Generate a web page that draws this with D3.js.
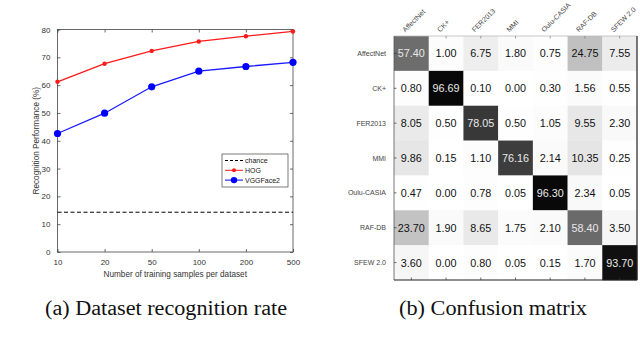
<!DOCTYPE html>
<html>
<head>
<meta charset="utf-8">
<script src="https://cdn.jsdelivr.net/npm/d3@7"></script>
<style>
  body { margin: 0; background: #fff; }
  svg { display: block; }
</style>
</head>
<body>
<svg id="fig" width="640" height="353"></svg>
<script>
// left panel data
var samples = ["10", "20", "50", "100", "200", "500"];
var hog = [61.2, 67.7, 72.3, 75.7, 77.6, 79.3];
var vgg = [42.6, 49.9, 59.4, 65.0, 66.7, 68.2];
var chance = 14.3;
var yTicks = [0, 10, 20, 30, 40, 50, 60, 70, 80];

// right panel data
var datasets = ["AffectNet", "CK+", "FER2013", "MMI", "Oulu-CASIA", "RAF-DB", "SFEW 2.0"];
var confusion = [
  [57.40, 1.00, 6.75, 1.80, 0.75, 24.75, 7.55],
  [0.80, 96.69, 0.10, 0.00, 0.30, 1.56, 0.55],
  [8.05, 0.50, 78.05, 0.50, 1.05, 9.55, 2.30],
  [9.86, 0.15, 1.10, 76.16, 2.14, 10.35, 0.25],
  [0.47, 0.00, 0.78, 0.05, 96.30, 2.34, 0.05],
  [23.70, 1.90, 8.65, 1.75, 2.10, 58.40, 3.50],
  [3.60, 0.00, 0.80, 0.05, 0.15, 1.70, 93.70]
];

var svg = d3.select("#fig");
var sans = "'Liberation Sans', Arial, sans-serif";
var serif = "'Liberation Serif', 'Times New Roman', serif";

// ---- (a) line chart ----
var L = {left: 57.5, right: 293, top: 29.5, bottom: 252};
var x = d3.scalePoint().domain(samples).range([L.left, L.right]);
var y = d3.scaleLinear().domain([0, 80]).range([L.bottom, L.top]);

var gA = svg.append("g");

gA.append("rect")
  .attr("x", L.left).attr("y", L.top)
  .attr("width", L.right - L.left).attr("height", L.bottom - L.top)
  .attr("fill", "none").attr("stroke", "#444").attr("stroke-width", 0.8);

// axes with inward ticks
gA.append("g").attr("transform", "translate(0," + L.bottom + ")")
  .call(d3.axisBottom(x).tickSizeInner(-3).tickSizeOuter(0).tickPadding(7))
  .call(function(g) { g.select(".domain").remove(); });
gA.append("g").attr("transform", "translate(0," + L.top + ")")
  .call(d3.axisTop(x).tickSizeInner(-3).tickSizeOuter(0).tickFormat(""))
  .call(function(g) { g.select(".domain").remove(); });
gA.append("g").attr("transform", "translate(" + L.left + ",0)")
  .call(d3.axisLeft(y).tickValues(yTicks).tickSizeInner(-3).tickSizeOuter(0).tickPadding(7))
  .call(function(g) { g.select(".domain").remove(); });
gA.append("g").attr("transform", "translate(" + L.right + ",0)")
  .call(d3.axisRight(y).tickValues(yTicks).tickSizeInner(-3).tickSizeOuter(0).tickFormat(""))
  .call(function(g) { g.select(".domain").remove(); });

gA.selectAll(".tick line").attr("stroke", "#444").attr("stroke-width", 0.8);
gA.selectAll(".tick text").attr("fill", "#333").style("font-family", sans).style("font-size", "8px");

gA.append("text")
  .attr("x", (L.left + L.right) / 2).attr("y", 277)
  .attr("text-anchor", "middle").attr("fill", "#333")
  .style("font-family", sans).style("font-size", "8.2px")
  .text("Number of training samples per dataset");
gA.append("text")
  .attr("transform", "translate(39," + (L.top + L.bottom) / 2 + ") rotate(-90)")
  .attr("text-anchor", "middle").attr("fill", "#333")
  .style("font-family", sans).style("font-size", "8.2px")
  .text("Recognition Performance (%)");

// chance line
gA.append("line")
  .attr("x1", L.left).attr("x2", L.right)
  .attr("y1", y(chance)).attr("y2", y(chance))
  .attr("stroke", "#000").attr("stroke-width", 1).attr("stroke-dasharray", "4,2.5");

var line = d3.line().x(function(d, i) { return x(samples[i]); }).y(function(d) { return y(d); });

gA.append("path").datum(hog).attr("d", line)
  .attr("fill", "none").attr("stroke", "#ff1a1a").attr("stroke-width", 1.3);
gA.selectAll(".hogPt").data(hog).enter().append("circle")
  .attr("cx", function(d, i) { return x(samples[i]); }).attr("cy", y)
  .attr("r", 2.2).attr("fill", "#ff1a1a");

gA.append("path").datum(vgg).attr("d", line)
  .attr("fill", "none").attr("stroke", "#1a1aff").attr("stroke-width", 1.3);
gA.selectAll(".vggPt").data(vgg).enter().append("circle")
  .attr("cx", function(d, i) { return x(samples[i]); }).attr("cy", y)
  .attr("r", 3.6).attr("fill", "#0000ff");

// legend
var leg = gA.append("g").attr("transform", "translate(222,154)");
leg.append("rect").attr("width", 66).attr("height", 33)
  .attr("fill", "#fff").attr("stroke", "#444").attr("stroke-width", 0.7);
var legItems = [
  {name: "chance", color: "#000", dash: "3,2", r: 0},
  {name: "HOG", color: "#ff1a1a", dash: null, r: 2},
  {name: "VGGFace2", color: "#0000ff", dash: null, r: 3.2}
];
legItems.forEach(function(d, i) {
  var ly = 6.5 + i * 9.8;
  leg.append("line").attr("x1", 3).attr("x2", 21).attr("y1", ly).attr("y2", ly)
    .attr("stroke", d.color).attr("stroke-width", 1).attr("stroke-dasharray", d.dash);
  if (d.r) leg.append("circle").attr("cx", 12).attr("cy", ly).attr("r", d.r).attr("fill", d.color);
  leg.append("text").attr("x", 23).attr("y", ly + 2.5).attr("fill", "#222")
    .style("font-family", sans).style("font-size", "7px").text(d.name);
});

// ---- (b) confusion matrix ----
var M = {left: 394, right: 637, top: 36, bottom: 280};
var cx = d3.scaleBand().domain(d3.range(7)).range([M.left, M.right]);
var cy = d3.scaleBand().domain(d3.range(7)).range([M.top, M.bottom]);
var shade = d3.scaleLinear().domain([0, 100]).range(["#ffffff", "#000000"]);

var gB = svg.append("g");
var cells = [];
confusion.forEach(function(row, r) {
  row.forEach(function(v, c) { cells.push({r: r, c: c, v: v}); });
});

gB.selectAll(".cell").data(cells).enter().append("rect")
  .attr("x", function(d) { return cx(d.c); }).attr("y", function(d) { return cy(d.r); })
  .attr("width", cx.bandwidth() + 0.3).attr("height", cy.bandwidth() + 0.3)
  .attr("fill", function(d) { return shade(d.v); });

gB.selectAll(".val").data(cells).enter().append("text")
  .attr("x", function(d) { return cx(d.c) + cx.bandwidth() / 2; })
  .attr("y", function(d) { return cy(d.r) + cy.bandwidth() / 2 + 4; })
  .attr("text-anchor", "middle")
  .attr("fill", function(d) { return d.v > 50 ? "#e8e8e8" : "#111"; })
  .style("font-family", sans).style("font-size", "10.8px")
  .text(function(d) { return d.v.toFixed(2); });

// frame and ticks
gB.append("line").attr("x1", M.left).attr("x2", M.right).attr("y1", M.top).attr("y2", M.top)
  .attr("stroke", "#bbb").attr("stroke-width", 0.8);
gB.append("line").attr("x1", M.left).attr("x2", M.left).attr("y1", M.top).attr("y2", M.bottom)
  .attr("stroke", "#555").attr("stroke-width", 0.8);
gB.append("line").attr("x1", M.left).attr("x2", M.right).attr("y1", M.bottom).attr("y2", M.bottom)
  .attr("stroke", "#222").attr("stroke-width", 1.2);
gB.append("line").attr("x1", M.right).attr("x2", M.right).attr("y1", M.top).attr("y2", M.bottom)
  .attr("stroke", "#222").attr("stroke-width", 1.2);

d3.range(7).forEach(function(i) {
  var tx = cx(i) + cx.bandwidth() / 2;
  var ty = cy(i) + cy.bandwidth() / 2;
  gB.append("line").attr("x1", tx).attr("x2", tx).attr("y1", M.bottom).attr("y2", M.bottom - 2.5)
    .attr("stroke", "#333").attr("stroke-width", 0.7);
  gB.append("line").attr("x1", tx).attr("x2", tx).attr("y1", M.top).attr("y2", M.top + 2.5)
    .attr("stroke", "#777").attr("stroke-width", 0.7);
  gB.append("line").attr("x1", M.left).attr("x2", M.left + 2.5).attr("y1", ty).attr("y2", ty)
    .attr("stroke", "#333").attr("stroke-width", 0.7);
});

gB.selectAll(".rowLab").data(datasets).enter().append("text")
  .attr("x", 386).attr("y", function(d, i) { return cy(i) + cy.bandwidth() / 2 + 2.5; })
  .attr("text-anchor", "end").attr("fill", "#444")
  .style("font-family", sans).style("font-size", "7px")
  .text(function(d) { return d; });

gB.selectAll(".colLab").data(datasets).enter().append("text")
  .attr("transform", function(d, i) {
    return "translate(" + (cx(i) + cx.bandwidth() / 2 - 6) + ",32.5) rotate(-45)";
  })
  .attr("fill", "#444")
  .style("font-family", sans).style("font-size", "7px")
  .text(function(d) { return d; });

// captions
svg.append("text").attr("x", 45).attr("y", 315)
  .attr("textLength", 242).attr("lengthAdjust", "spacingAndGlyphs")
  .attr("fill", "#111").style("font-family", serif).style("font-size", "20px")
  .text("(a) Dataset recognition rate");
svg.append("text").attr("x", 399).attr("y", 315)
  .attr("textLength", 188).attr("lengthAdjust", "spacingAndGlyphs")
  .attr("fill", "#111").style("font-family", serif).style("font-size", "20px")
  .text("(b) Confusion matrix");
</script>
</body>
</html>
